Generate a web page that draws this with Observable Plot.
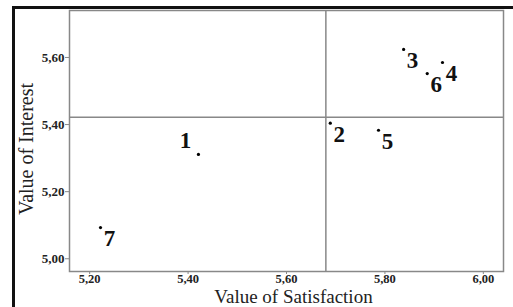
<!DOCTYPE html>
<html>
<head>
<meta charset="utf-8">
<script src="https://cdn.jsdelivr.net/npm/d3@7"></script>
<script src="https://cdn.jsdelivr.net/npm/@observablehq/plot@0.6"></script>
<style>
  html, body { margin: 0; padding: 0; background: #fff; }
  #wrap { position: relative; width: 513px; height: 307px; overflow: hidden; }
  #chart svg { display: block; }
  .bl { position: absolute; background: #111; }
</style>
</head>
<body>
<div id="wrap">
  <div id="chart"></div>
  <div class="bl" style="left:12px; top:6px; width:3px; height:301px;"></div>
  <div class="bl" style="left:12px; top:6px; width:501px; height:3px;"></div>
</div>
<script>
const ids = ["1", "2", "3", "4", "5", "6", "7"];
const satisfaction = [5.421, 5.689, 5.838, 5.917, 5.787, 5.886, 5.222];
const interest = [5.311, 5.404, 5.624, 5.585, 5.383, 5.552, 5.093];
const xTicks = [5.2, 5.4, 5.6, 5.8, 6.0];
const yTicks = [5.0, 5.2, 5.4, 5.6];

const data = ids.map((id, i) => ({id, x: satisfaction[i], y: interest[i]}));
const meanX = d3.mean(satisfaction);
const meanY = d3.mean(interest);
const fmt = d => d.toFixed(2).replace(".", ",");
const serif = "'Liberation Serif', 'Times New Roman', serif";

const chart = Plot.plot({
  width: 513,
  height: 307,
  marginLeft: 69,
  marginRight: 10,
  marginTop: 10,
  marginBottom: 36,
  style: {fontFamily: serif, background: "transparent", overflow: "visible"},
  x: {domain: [5.159, 6.041], ticks: xTicks},
  y: {domain: [4.962, 5.74], ticks: yTicks},
  marks: [
    Plot.frame({stroke: "#888", strokeWidth: 1.5}),
    Plot.ruleX([meanX], {stroke: "#888", strokeWidth: 1.5}),
    Plot.ruleY([meanY], {stroke: "#888", strokeWidth: 1.5}),
    Plot.axisX({ticks: xTicks, tickFormat: fmt, tickSize: 3, tickPadding: 0, stroke: "#888",
      fontSize: 12.5, fontWeight: "bold", fill: "#222", fontFamily: serif, label: null}),
    Plot.axisY({ticks: yTicks, tickFormat: fmt, tickSize: 4, tickPadding: 1, stroke: "#888",
      fontSize: 13, fontWeight: "bold", fill: "#222", fontFamily: serif, label: null}),
    Plot.dot(data, {x: "x", y: "y", r: 1.6, fill: "#000", stroke: null}),
    Plot.text(data, {filter: d => d.id !== "1", x: "x", y: "y", text: "id", dx: 9, dy: 11,
      fontSize: 23, fontWeight: "bold", fill: "#111", fontFamily: serif}),
    Plot.text(data, {filter: d => d.id === "1", x: "x", y: "y", text: "id", dx: -13, dy: -14,
      fontSize: 23, fontWeight: "bold", fill: "#111", fontFamily: serif}),
    Plot.text(["Value of Satisfaction"], {frameAnchor: "bottom", lineAnchor: "middle", textAnchor: "middle",
      dx: 7, dy: 25, fontSize: 19, fill: "#222", fontFamily: serif}),
    Plot.text(["Value of Interest"], {frameAnchor: "left", lineAnchor: "middle", textAnchor: "middle",
      dx: -43, dy: 8, rotate: -90, fontSize: 20, fill: "#222", fontFamily: serif})
  ]
});
document.getElementById("chart").appendChild(chart);
</script>
</body>
</html>
